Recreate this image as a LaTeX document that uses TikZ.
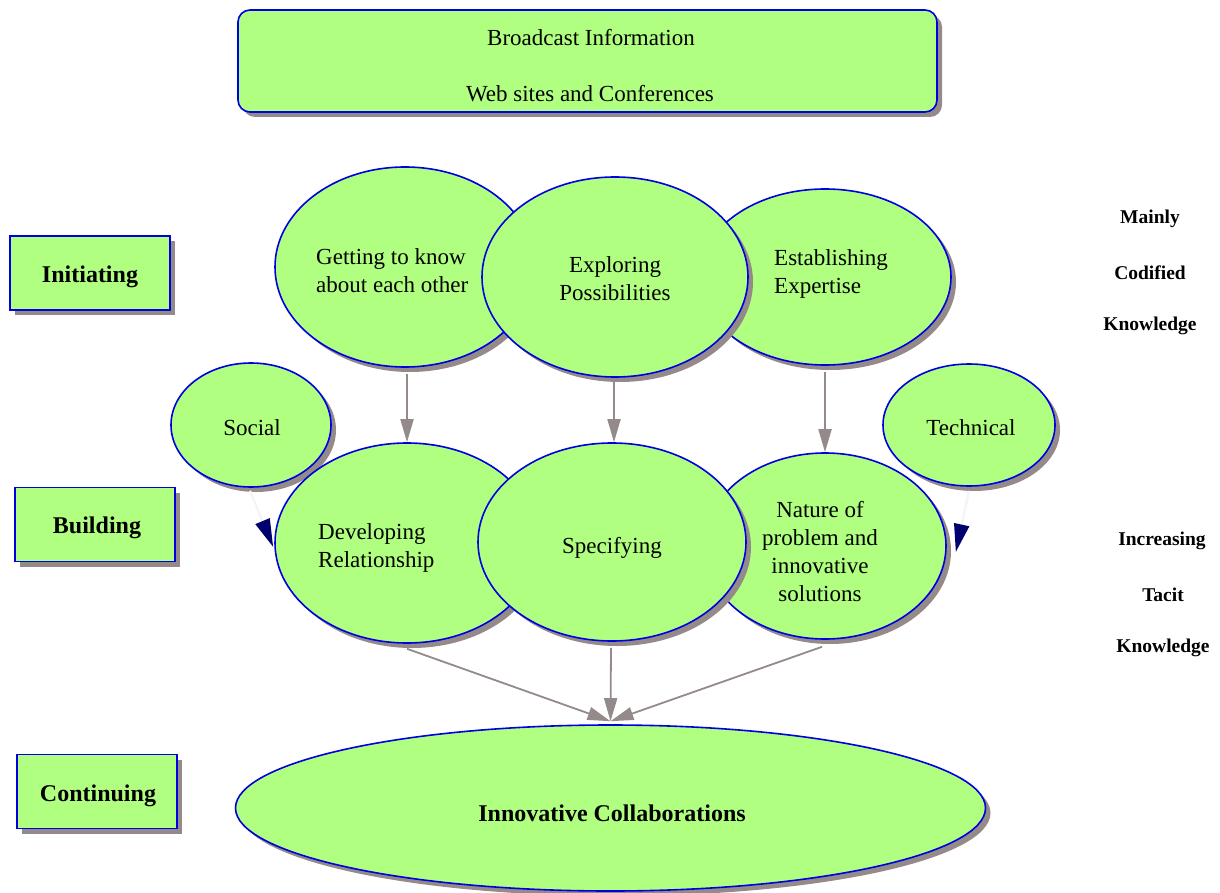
\documentclass[tikz,border=0pt]{standalone}
\usepackage{fontspec}
\setmainfont{Liberation Serif}
\usetikzlibrary{shapes.geometric,shadows,arrows.meta}
\definecolor{fillg}{RGB}{176,255,128}
\definecolor{edgeb}{RGB}{0,0,225}
\definecolor{shad}{RGB}{148,138,138}
\definecolor{navyd}{RGB}{0,0,110}
\tikzset{
  shbase/.style={fill=fillg, draw=edgeb, line width=1.6pt,
    drop shadow={shadow xshift=5pt, shadow yshift=-5pt, fill=shad, opacity=1}},
  ell/.style={shbase, ellipse, inner sep=0pt},
  sidebox/.style={shbase, rectangle, inner sep=0pt, minimum width=160pt, minimum height=74pt},
  sidetxt/.style={font=\fontsize{24}{28}\selectfont\bfseries, inner sep=0pt},
  txt/.style={align=center, font=\fontsize{23}{28}\selectfont, inner sep=0pt},
  txtl/.style={align=left, font=\fontsize{23}{28}\selectfont, inner sep=0pt},
  rlab/.style={font=\fontsize{19.5}{22}\selectfont\bfseries, inner sep=0pt},
  grayarr/.style={draw=shad, line width=1.8pt, -{Triangle[length=23pt,width=13pt,fill=shad]}},
  navyarr/.style={draw=navyd!4, line width=2.5pt, -{Triangle[length=28pt,width=15pt,fill=navyd,color=navyd]}}
}
\begin{document}
\begin{tikzpicture}[x=1pt,y=-1pt]
\useasboundingbox (0,0) rectangle (1220,893);

% top box
\node[shbase, rectangle, rounded corners=12pt, minimum width=699pt, minimum height=102pt, inner sep=0pt] (top) at (587.5,61) {};
\node[txt] (topa) at (591,38) {Broadcast Information};
\node[txt] (topb) at (590,94) {Web sites and Conferences};

% side boxes
\node[sidebox] (init) at (90,273) {};
\node[sidetxt] (initt) at (90,277) {Initiating};
\node[sidebox] (build) at (95,524.5) {};
\node[sidetxt] (buildt) at (97,528) {Building};
\node[sidebox] (cont) at (97,791.5) {};
\node[sidetxt] (contt) at (98,796) {Continuing};

% top row ellipses
\node[ell, minimum width=260pt, minimum height=200pt] (get) at (405,267) {};
\node[txtl, anchor=west] (gett) at (316,271) {Getting to know\\about each other};
\node[ell, minimum width=252pt, minimum height=176pt] (est) at (825,277) {};
\node[txtl, anchor=west] (estt) at (774,274) {Establishing\\Expertise};
\node[ell, minimum width=266pt, minimum height=200pt] (exp) at (615,277) {};
\node[txt] (expt) at (615,279) {Exploring\\Possibilities};

% social / technical
\node[ell, minimum width=160pt, minimum height=124pt] (soc) at (251,425) {};
\node[txt] (soct) at (252,428) {Social};
\node[ell, minimum width=172pt, minimum height=122pt] (tec) at (969,425) {};
\node[txt] (tect) at (971,428) {Technical};

% second row
\node[ell, minimum width=264pt, minimum height=200pt] (dev) at (407,543) {};
\node[txtl, anchor=west] (devt) at (318,548) {Developing\\Relationship};
\node[ell, minimum width=242pt, minimum height=186pt] (nat) at (825,546) {};
\node[txt] (natt) at (820,552) {Nature of\\problem and\\innovative\\solutions};
\node[ell, minimum width=268pt, minimum height=198pt] (spe) at (612,542) {};
\node[txt] (spet) at (612,548) {Specifying};

% bottom
\node[ell, minimum width=750pt, minimum height=166pt] (inn) at (610.5,808) {};
\node[txt, font=\fontsize{24}{28}\selectfont\bfseries] (innt) at (612,813) {Innovative Collaborations};

% right labels
\node[rlab] (r1) at (1150,219) {Mainly};
\node[rlab] (r2) at (1150,273) {Codified};
\node[rlab] (r3) at (1150,326) {Knowledge};
\node[rlab] (r4) at (1162,541) {Increasing};
\node[rlab] (r5) at (1163,595) {Tacit};
\node[rlab] (r6) at (1163,648) {Knowledge};

% gray arrows
\draw[grayarr] ([shift={(2,6)}]get.south) -- (dev.north);
\draw[grayarr] ([shift={(-1,4)}]exp.south) -- ([shift={(2,0)}]spe.north);
\draw[grayarr] ([shift={(0,6)}]est.south) -- (nat.north);
\coordinate (innin) at ([shift={(0,-3)}]inn.north);
\draw[grayarr] ([shift={(0,5)}]dev.south) -- (innin);
\draw[grayarr] ([shift={(-1,6)}]spe.south) -- (innin);
\draw[grayarr] ([shift={(-3,7)}]nat.south) -- (innin);

% navy arrows
\coordinate (tecend) at ([shift={(9,6)}]nat.east);
\draw[navyarr] ([shift={(-1,3)}]soc.south) -- ([shift={(-1,4)}]dev.west);
\draw[navyarr] ([shift={(0,4)}]tec.south) -- (tecend);
\end{tikzpicture}
\end{document}
